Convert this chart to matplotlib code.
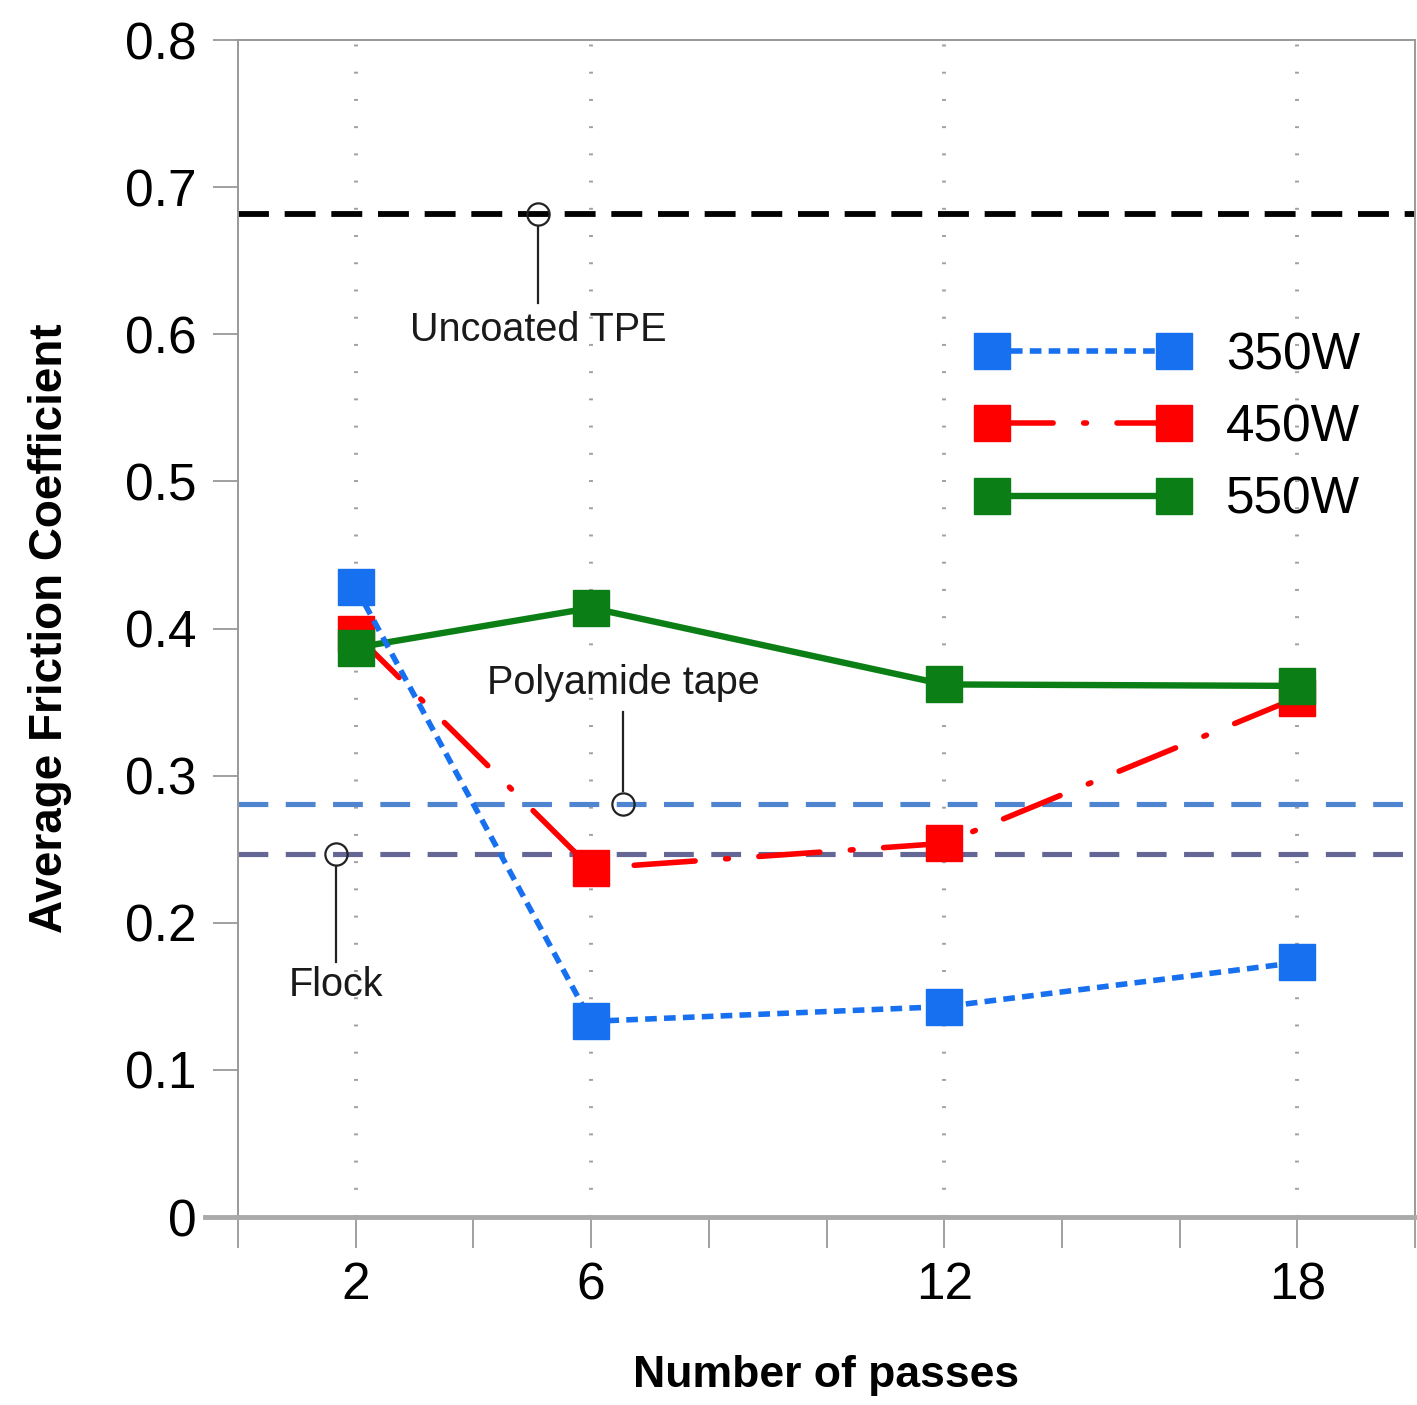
import matplotlib
matplotlib.use("Agg")
import matplotlib.pyplot as plt
from matplotlib import font_manager
from matplotlib.lines import Line2D

# --- data -------------------------------------------------------------
passes = [2, 6, 12, 18]
mu_350w = [0.428, 0.133, 0.143, 0.173]
mu_450w = [0.396, 0.237, 0.254, 0.353]
mu_550w = [0.387, 0.414, 0.362, 0.361]
series_labels = ["350W", "450W", "550W"]

ref_names = ["Uncoated TPE", "Polyamide tape", "Flock"]
ref_values = [0.682, 0.281, 0.247]

y_ticks = [0, 0.1, 0.2, 0.3, 0.4, 0.5, 0.6, 0.7, 0.8]
y_tick_labels = ["0", "0.1", "0.2", "0.3", "0.4", "0.5", "0.6", "0.7", "0.8"]
x_tick_labels = ["2", "6", "12", "18"]

# --- fonts ------------------------------------------------------------
names = {f.name for f in font_manager.fontManager.ttflist}
family = "Liberation Sans Narrow" if "Liberation Sans Narrow" in names else "Liberation Sans"
plt.rcParams["font.family"] = [family, "DejaVu Sans"]

fig = plt.figure(figsize=(14.17, 14.05), dpi=100)
ax = fig.add_axes([0.168, 0.1338, 0.8306, 0.8377])

# reference materials (horizontal lines)
ax.axhline(ref_values[0], color="black", lw=4.2, dashes=(5.3, 2.7), zorder=2)
ax.axhline(ref_values[1], color="#4f84d0", lw=3.7, dashes=(5.8, 3.4), zorder=2)
ax.axhline(ref_values[2], color="#646796", lw=3.7, dashes=(5.8, 3.4), zorder=2)

# series
ms = 26
l450, = ax.plot(passes, mu_450w, color="#ff0000", lw=4.0, marker="s", ms=ms,
                dashes=(11, 5.5, 0.5, 5.5), dash_capstyle="round",
                label=series_labels[1], zorder=3)
l550, = ax.plot(passes, mu_550w, color="#0b7f16", lw=4.6, marker="s", ms=ms,
                label=series_labels[2], zorder=4)
l350, = ax.plot(passes, mu_350w, color="#1670f0", lw=4.0, marker="s", ms=ms,
                dashes=(2.1, 1.3), label=series_labels[0], zorder=5)

# callouts for the reference lines
callout_x = [5.1, 6.54, 1.66]
callout_end = [0.621, 0.343, 0.173]
callout_text_y = [0.603, 0.363, 0.158]
for name, yv, cx, ye, ty in zip(ref_names, ref_values, callout_x, callout_end, callout_text_y):
    off = 0.0085 if ye < yv else -0.0085
    ax.plot([cx, cx], [yv - off, ye], color="#222222", lw=1.6, zorder=6)
    ax.plot([cx], [yv], marker="o", ms=16, mfc="none", mec="#222222", mew=1.6, zorder=6)
    ax.text(cx, ty, name, ha="center", va="center", fontsize=28.5, color="#1a1a1a", zorder=6)

# axes styling
ax.set_xlim(0, 20)
ax.set_ylim(0, 0.8)
ax.set_xticks(range(0, 21, 2))
ax.set_xticklabels(["" if str(t) not in x_tick_labels else str(t) for t in range(0, 21, 2)])
ax.set_yticks(y_ticks)
ax.set_yticklabels(y_tick_labels)
ax.tick_params(axis="y", direction="out", length=18, width=1.3, color="#999999",
               pad=12, labelsize=37)
ax.tick_params(axis="x", direction="out", length=22, width=1.3, color="#999999",
               pad=10, labelsize=37)

for t in passes:
    ax.axvline(t, color="#a0a0a0", lw=2.8, dashes=(0.5, 6.5), zorder=1)

for side in ["top", "right", "left"]:
    ax.spines[side].set_color("#999999")
    ax.spines[side].set_linewidth(1.4)
ax.spines["bottom"].set_color("#aaaaaa")
ax.spines["bottom"].set_linewidth(3.5)
ax.add_line(Line2D([-0.028, 0], [0, 0], transform=ax.transAxes, color="#aaaaaa",
                   lw=3.5, clip_on=False))

ax.set_xlabel("Number of passes", fontsize=32, fontweight="bold", labelpad=32)
ax.set_ylabel("Average Friction Coefficient", fontsize=33, fontweight="bold", labelpad=38)

leg = ax.legend(handles=[l350, l450, l550], loc="upper left",
                bbox_to_anchor=(0.61, 0.77), frameon=False, numpoints=2,
                handlelength=4.15, handletextpad=0.7, labelspacing=0.45,
                fontsize=37, borderaxespad=0)

fig.savefig("out.png", dpi=100, facecolor="white")
